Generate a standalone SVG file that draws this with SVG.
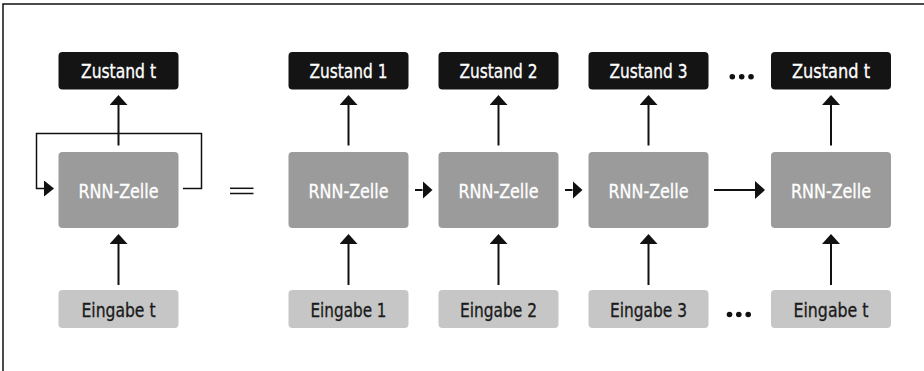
<svg xmlns="http://www.w3.org/2000/svg" width="924" height="371" viewBox="0 0 924 371">
  <style>
    .state { fill: #141414; }
    .cell { fill: #9b9b9b; }
    .input { fill: #c6c6c6; }
    .lbl { font-family: "DejaVu Sans Condensed", "DejaVu Sans", "Liberation Sans", sans-serif; font-stretch: condensed; font-size: 19.5px; text-anchor: middle; stroke-width: 0.3; }
    .lbl-light { fill: #ffffff; stroke: #ffffff; }
    .lbl-dark { fill: #1a1a1a; stroke: #1a1a1a; }
    .wire { fill: none; stroke: #111; stroke-width: 2; }
    .thin { fill: none; stroke: #111; stroke-width: 1.5; }
    .dot { fill: #111; }
  </style>
  <defs>
    <marker id="head" viewBox="0 0 10 18" refX="0" refY="9" markerWidth="10" markerHeight="18" markerUnits="userSpaceOnUse" orient="auto">
      <path d="M0,0 L10,9 L0,18 Z" fill="#111"/>
    </marker>
    <marker id="headLoop" viewBox="0 0 10 16" refX="0" refY="8" markerWidth="10" markerHeight="16" markerUnits="userSpaceOnUse" orient="auto">
      <path d="M0,0 L10,8 L0,16 Z" fill="#111"/>
    </marker>
  </defs>

  <!-- frame -->
  <path d="M3,371 V4 H924" class="thin"/>

  <!-- folded RNN -->
  <g id="state-t-folded">
    <rect x="58.5" y="52" width="120" height="37.5" rx="4" class="state"/>
    <text x="118.5" y="78" class="lbl lbl-light" textLength="75" lengthAdjust="spacingAndGlyphs">Zustand t</text>
  </g>
  <g id="cell-folded">
    <rect x="58.5" y="152" width="120" height="76" rx="4" class="cell"/>
    <text x="118.5" y="197.5" class="lbl lbl-light" textLength="80" lengthAdjust="spacingAndGlyphs">RNN-Zelle</text>
  </g>
  <g id="input-t-folded">
    <rect x="58.5" y="290" width="120" height="38" rx="4" class="input"/>
    <text x="118.5" y="316.5" class="lbl lbl-dark" textLength="74" lengthAdjust="spacingAndGlyphs">Eingabe t</text>
  </g>

  <!-- equals sign -->
  <g id="equals">
    <line x1="230" y1="188.3" x2="253.5" y2="188.3" class="thin"/>
    <line x1="230" y1="193.5" x2="253.5" y2="193.5" class="thin"/>
  </g>

  <!-- unrolled RNN -->
  <g id="state-1">
    <rect x="288.5" y="52" width="120" height="37.5" rx="4" class="state"/>
    <text x="348.5" y="78" class="lbl lbl-light" textLength="78" lengthAdjust="spacingAndGlyphs">Zustand 1</text>
  </g>
  <g id="cell-1">
    <rect x="288.5" y="152" width="120" height="76" rx="4" class="cell"/>
    <text x="348.5" y="197.5" class="lbl lbl-light" textLength="80" lengthAdjust="spacingAndGlyphs">RNN-Zelle</text>
  </g>
  <g id="input-1">
    <rect x="288.5" y="290" width="120" height="38" rx="4" class="input"/>
    <text x="348.5" y="316.5" class="lbl lbl-dark" textLength="76" lengthAdjust="spacingAndGlyphs">Eingabe 1</text>
  </g>

  <g id="state-2">
    <rect x="438.5" y="52" width="120" height="37.5" rx="4" class="state"/>
    <text x="498.5" y="78" class="lbl lbl-light" textLength="78" lengthAdjust="spacingAndGlyphs">Zustand 2</text>
  </g>
  <g id="cell-2">
    <rect x="438.5" y="152" width="120" height="76" rx="4" class="cell"/>
    <text x="498.5" y="197.5" class="lbl lbl-light" textLength="80" lengthAdjust="spacingAndGlyphs">RNN-Zelle</text>
  </g>
  <g id="input-2">
    <rect x="438.5" y="290" width="120" height="38" rx="4" class="input"/>
    <text x="498.5" y="316.5" class="lbl lbl-dark" textLength="77" lengthAdjust="spacingAndGlyphs">Eingabe 2</text>
  </g>

  <g id="state-3">
    <rect x="588.5" y="52" width="120" height="37.5" rx="4" class="state"/>
    <text x="648.5" y="78" class="lbl lbl-light" textLength="78" lengthAdjust="spacingAndGlyphs">Zustand 3</text>
  </g>
  <g id="cell-3">
    <rect x="588.5" y="152" width="120" height="76" rx="4" class="cell"/>
    <text x="648.5" y="197.5" class="lbl lbl-light" textLength="80" lengthAdjust="spacingAndGlyphs">RNN-Zelle</text>
  </g>
  <g id="input-3">
    <rect x="588.5" y="290" width="120" height="38" rx="4" class="input"/>
    <text x="648.5" y="316.5" class="lbl lbl-dark" textLength="77" lengthAdjust="spacingAndGlyphs">Eingabe 3</text>
  </g>

  <g id="state-t">
    <rect x="771" y="52" width="120" height="37.5" rx="4" class="state"/>
    <text x="831" y="78" class="lbl lbl-light" textLength="78" lengthAdjust="spacingAndGlyphs">Zustand t</text>
  </g>
  <g id="cell-t">
    <rect x="771" y="152" width="120" height="76" rx="4" class="cell"/>
    <text x="831" y="197.5" class="lbl lbl-light" textLength="80" lengthAdjust="spacingAndGlyphs">RNN-Zelle</text>
  </g>
  <g id="input-t">
    <rect x="771" y="290" width="120" height="38" rx="4" class="input"/>
    <text x="831" y="316.5" class="lbl lbl-dark" textLength="75" lengthAdjust="spacingAndGlyphs">Eingabe t</text>
  </g>

  <!-- ellipses -->
  <g id="ellipsis-top">
    <circle cx="732.3" cy="76.7" r="2.8" class="dot"/>
    <circle cx="741.7" cy="76.7" r="2.8" class="dot"/>
    <circle cx="751" cy="76.7" r="2.8" class="dot"/>
  </g>
  <g id="ellipsis-bottom">
    <circle cx="729.5" cy="314.5" r="2.8" class="dot"/>
    <circle cx="738.8" cy="314.5" r="2.8" class="dot"/>
    <circle cx="748.2" cy="314.5" r="2.8" class="dot"/>
  </g>

  <!-- connectors -->
  <g id="connectors">
    <!-- recurrent loop -->
    <path d="M183,188.5 H201.5 V133.5 H36.5 V188.5 H44" class="thin" marker-end="url(#headLoop)"/>

    <!-- cell to state -->
    <line x1="118.5" y1="145.5" x2="118.5" y2="105" class="wire" marker-end="url(#head)"/>
    <line x1="348.5" y1="145.5" x2="348.5" y2="105" class="wire" marker-end="url(#head)"/>
    <line x1="498.5" y1="145.5" x2="498.5" y2="105" class="wire" marker-end="url(#head)"/>
    <line x1="648.5" y1="145.5" x2="648.5" y2="105" class="wire" marker-end="url(#head)"/>
    <line x1="831" y1="145.5" x2="831" y2="105" class="wire" marker-end="url(#head)"/>

    <!-- input to cell -->
    <line x1="118.5" y1="285" x2="118.5" y2="244" class="wire" marker-end="url(#head)"/>
    <line x1="348.5" y1="285" x2="348.5" y2="244" class="wire" marker-end="url(#head)"/>
    <line x1="498.5" y1="285" x2="498.5" y2="244" class="wire" marker-end="url(#head)"/>
    <line x1="648.5" y1="285" x2="648.5" y2="244" class="wire" marker-end="url(#head)"/>
    <line x1="831" y1="285" x2="831" y2="244" class="wire" marker-end="url(#head)"/>

    <!-- cell to next cell -->
    <line x1="415" y1="190" x2="422.5" y2="190" class="wire" marker-end="url(#head)"/>
    <line x1="565" y1="190" x2="572.5" y2="190" class="wire" marker-end="url(#head)"/>
    <line x1="714" y1="190" x2="755" y2="190" class="wire" marker-end="url(#head)"/>
  </g>
</svg>
